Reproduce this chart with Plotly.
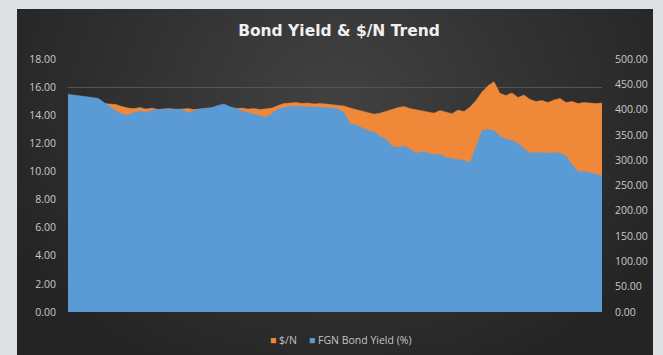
import base64, struct, zlib
import numpy as np
import plotly.graph_objects as go

# ---------------- data ----------------
usd_ngn = [405, 404, 406, 405, 407, 406, 412, 411, 410, 406,
           403, 402, 404, 401, 403, 400, 401, 402, 400, 401,
           402, 400, 401, 402, 403, 401, 402, 401, 402, 403,
           401, 402, 400, 401, 403, 408, 412, 413, 414, 412,
           413, 411, 412, 411, 410, 408, 407, 403, 400, 397,
           393, 391, 393, 396, 400, 404, 406, 402, 400, 397,
           396, 393, 398, 395, 392, 399, 396, 405, 418, 435,
           447, 455, 432, 428, 433, 424, 429, 420, 416, 418,
           414, 419, 422, 414, 416, 412, 414, 413, 412, 413]
bond_yield = [15.5, 15.45, 15.4, 15.35, 15.3, 15.2, 14.9, 14.6, 14.3, 14.1,
              14.0, 14.2, 14.3, 14.2, 14.35, 14.4, 14.45, 14.4, 14.45, 14.4,
              14.2, 14.3, 14.45, 14.5, 14.55, 14.7, 14.8, 14.6, 14.5, 14.3,
              14.2, 14.1, 14.0, 13.85, 14.1, 14.45, 14.55, 14.6, 14.65, 14.6,
              14.6, 14.55, 14.6, 14.55, 14.5, 14.45, 14.2, 13.4, 13.3, 13.1,
              12.9, 12.8, 12.5, 12.3, 11.8, 11.7, 11.8, 11.6, 11.3, 11.4,
              11.3, 11.2, 11.2, 11.0, 10.9, 10.85, 10.8, 10.6, 11.8, 12.9,
              13.0, 12.9, 12.5, 12.3, 12.2, 12.0, 11.6, 11.3, 11.35, 11.3,
              11.3, 11.35, 11.3, 11.1, 10.5, 10.0, 10.0, 9.9, 9.8, 9.7]
periods = list(range(len(bond_yield)))

series_names = ["$/N", "FGN Bond Yield (%)"]
left_ticks = [0, 2, 4, 6, 8, 10, 12, 14, 16, 18]
right_ticks = [0, 50, 100, 150, 200, 250, 300, 350, 400, 450, 500]

# ---------------- layout geometry ----------------
W, H = 663, 355
ML, MR, MT, MB = 68, 61, 59, 43
PW, PH = W - ML - MR, H - MT - MB

def px_x(x):
    return (x - ML) / PW

def px_y(y):
    return (H - MB - y) / PH

# radial gradient background image for the dark panel
def gradient_png(w=160, h=90):
    yy, xx = np.mgrid[0:h, 0:w]
    cx, cy = w * 0.5, h * 0.25
    d = np.sqrt(((xx - cx) / (w * 0.6)) ** 2 + ((yy - cy) / (h * 0.9)) ** 2)
    d = np.clip(d, 0, 1)
    inner = np.array([66, 66, 66], float)
    outer = np.array([36, 36, 36], float)
    img = (inner[None, None, :] * (1 - d[..., None]) + outer[None, None, :] * d[..., None]).astype(np.uint8)
    raw = b"".join(b"\x00" + img[r].tobytes() for r in range(h))
    def chunk(t, data):
        c = struct.pack(">I", len(data)) + t + data
        return c + struct.pack(">I", zlib.crc32(t + data) & 0xffffffff)
    png = b"\x89PNG\r\n\x1a\n" + chunk(b"IHDR", struct.pack(">IIBBBBB", w, h, 8, 2, 0, 0, 0)) \
        + chunk(b"IDAT", zlib.compress(raw, 9)) + chunk(b"IEND", b"")
    return "data:image/png;base64," + base64.b64encode(png).decode()

ORANGE = "#F0883A"
BLUE = "#5B9BD5"

fig = go.Figure()
fig.add_trace(go.Scatter(
    x=periods, y=usd_ngn, name=series_names[0], yaxis="y",
    mode="lines", fill="tozeroy", line=dict(color=ORANGE, width=0.5),
    fillcolor=ORANGE, hoverinfo="skip", showlegend=False))
fig.add_trace(go.Scatter(
    x=periods, y=bond_yield, name=series_names[1], yaxis="y2",
    mode="lines", fill="tozeroy", line=dict(color=BLUE, width=0.5),
    fillcolor=BLUE, hoverinfo="skip", showlegend=False))

tickfont = dict(family="Open Sans, sans-serif", size=10.5, color="#c9c9c9")

panel_x0, panel_x1 = px_x(17), px_x(653)
panel_y1, panel_y0 = px_y(9), px_y(H + 5)

# custom legend (small square swatches like the original)
legend_font = dict(family="Open Sans, sans-serif", size=10.5, color="#c4c4c4")
annotations = []
for name, col, xpos in [(series_names[0], ORANGE, 268), (series_names[1], BLUE, 307)]:
    annotations.append(dict(
        text=f"<span style='color:{col}'>■</span> {name}", x=px_x(xpos), y=px_y(340),
        xref="paper", yref="paper", xanchor="left", yanchor="middle",
        showarrow=False, font=legend_font))

fig.update_layout(
    width=W, height=H,
    margin=dict(l=ML, r=MR, t=MT, b=MB, autoexpand=False),
    paper_bgcolor="#dde1e4",
    plot_bgcolor="rgba(0,0,0,0)",
    title=dict(text="<b>Bond Yield & $/N Trend</b>", x=(339 - ML) / PW, xref="paper",
               xanchor="center", y=1 - 31 / H, yanchor="middle",
               font=dict(family="DejaVu Sans, sans-serif", size=15.5, color="#f0f0f0")),
    xaxis=dict(range=[0, len(periods) - 1], showgrid=False, zeroline=False,
               showticklabels=False, showline=False, ticks=""),
    yaxis=dict(side="right", range=[0, 500], tickvals=right_ticks,
               ticktext=[f"{v:.2f}" for v in right_ticks], showgrid=False,
               zeroline=False, showline=False, tickfont=tickfont,
               ticklabelstandoff=12),
    yaxis2=dict(side="left", overlaying="y", range=[0, 18], tickvals=left_ticks,
                ticktext=[f"{v:.2f}" for v in left_ticks], showgrid=True,
                gridcolor="#555555", gridwidth=1, zeroline=False, showline=False,
                tickfont=tickfont, ticklabelstandoff=11),
    annotations=annotations,
    images=[dict(source=gradient_png(), xref="paper", yref="paper",
                 x=panel_x0, y=panel_y1, sizex=panel_x1 - panel_x0,
                 sizey=panel_y1 - panel_y0, xanchor="left", yanchor="top",
                 sizing="stretch", layer="below")],
    showlegend=False,
)

fig.write_html("out.html")
